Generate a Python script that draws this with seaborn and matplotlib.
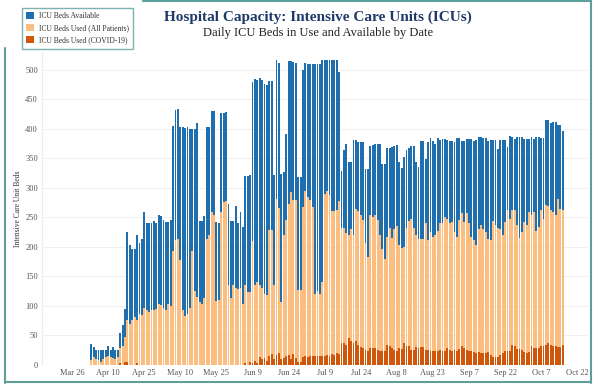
import numpy as np
import pandas as pd
import matplotlib.pyplot as plt
from matplotlib.patches import Patch
from matplotlib.lines import Line2D
import seaborn as sns

# Daily values, Apr 3 .. Oct 16
icu_capacity = [
    35, 31, 25, 25, 25, 25, 25, 32, 25, 31, 25, 25, 55, 67, 95,
    226, 203, 197, 197, 220, 206, 214, 259, 240, 241, 241, 244, 240, 254, 253, 245, 243, 243, 245,
    404, 431, 434, 403, 403, 401, 403, 400, 399, 399, 410, 244, 244, 252, 403, 403, 430, 430, 243, 240, 427, 427, 428,
    272, 244, 244, 270, 240, 259, 234, 320, 320, 321, 479, 485, 482, 486, 482, 475, 474, 481, 481, 321, 516, 512, 323, 327, 392,
    514, 514, 513, 512, 319, 319, 499, 512, 510, 509, 509, 509, 509, 510, 516, 516, 516, 516, 516, 516, 516, 496, 328, 364, 375, 344, 344, 381,
    381, 377, 377, 377, 332, 332, 371, 372, 374, 374, 374, 341, 341, 368, 368, 370, 371, 373, 343, 333, 352, 364, 368, 371, 371, 344, 336, 379,
    379, 349, 377, 384, 379, 375, 385, 381, 383, 383, 381, 379, 379, 377, 384, 384, 379, 379, 383, 383, 383, 379, 381, 386, 386, 385, 385, 379, 381,
    381, 381, 365, 381, 381, 381, 369, 388, 386, 383, 386, 386, 386, 383, 383, 383, 386, 383, 386, 386, 385, 385, 415, 415, 409, 412, 411, 406, 406, 396,
]
used_all = [
    8, 14, 10, 8, 5, 10, 14, 15, 14, 12, 10, 14, 28, 32, 48,
    77, 69, 76, 82, 76, 87, 85, 96, 93, 90, 93, 93, 95, 103, 102, 96, 93, 103, 100,
    193, 211, 213, 178, 93, 83, 87, 96, 193, 125, 115, 107, 104, 113, 214, 220, 259, 254, 108, 110, 259, 276, 278,
    135, 114, 135, 130, 129, 130, 104, 135, 124, 123, 210, 136, 141, 135, 130, 121, 118, 228, 228, 135, 281, 266, 107, 220, 245,
    272, 293, 279, 279, 127, 127, 268, 295, 284, 279, 268, 121, 125, 121, 141, 289, 294, 288, 261, 261, 262, 278, 232, 232, 223, 220, 231, 220,
    264, 261, 254, 245, 206, 183, 254, 251, 254, 245, 220, 197, 180, 217, 232, 215, 231, 236, 203, 198, 200, 232, 244, 248, 232, 220, 213, 214,
    214, 240, 211, 226, 217, 220, 227, 240, 241, 251, 247, 240, 243, 226, 217, 245, 257, 243, 257, 240, 217, 211, 204, 231, 237, 231, 226, 214, 211,
    244, 237, 232, 231, 220, 243, 262, 248, 262, 262, 237, 215, 226, 243, 237, 259, 254, 259, 227, 234, 262, 248, 271, 270, 262, 259, 254, 281, 265, 262,
]
used_covid = [
    0, 0, 0, 0, 0, 0, 0, 0, 0, 0, 0, 0, 3, 0, 5,
    5, 0, 0, 0, 3, 0, 0, 0, 0, 0, 0, 0, 0, 0, 0, 0, 0, 0, 0,
    0, 0, 0, 0, 0, 0, 0, 0, 0, 0, 0, 0, 0, 0, 0, 0, 0, 0, 0, 0, 0, 0, 0,
    0, 0, 0, 0, 0, 0, 0, 4, 0, 5, 3, 6, 3, 14, 10, 12, 6, 15, 18, 10, 17, 20, 10, 12, 15,
    17, 11, 18, 12, 5, 5, 14, 15, 14, 16, 15, 15, 16, 15, 15, 16, 17, 16, 18, 17, 20, 18, 38, 38, 34, 45, 40, 38,
    41, 34, 31, 28, 25, 23, 28, 29, 29, 25, 23, 24, 24, 34, 33, 28, 25, 24, 29, 27, 38, 33, 33, 25, 25, 31, 28, 30,
    31, 25, 25, 24, 24, 24, 23, 25, 23, 24, 29, 25, 23, 25, 24, 27, 33, 28, 25, 23, 24, 22, 21, 22, 20, 20, 21, 22, 17,
    14, 13, 13, 17, 20, 23, 24, 24, 34, 33, 27, 27, 25, 22, 21, 22, 33, 29, 28, 29, 33, 33, 34, 37, 34, 33, 33, 31, 30, 34,
]

axis_start = pd.Timestamp('2020-03-26')
dates = pd.date_range('2020-04-03', periods=len(icu_capacity), freq='D')
tick_dates = pd.date_range('2020-03-26', '2020-10-22', freq='15D')
tick_labels = [f'{d:%b} {d.day}' for d in tick_dates]
y_ticks = list(range(0, 501, 50))

labels = ['ICU Beds Available', 'ICU Beds Used (All Patients)', 'ICU Beds Used (COVID-19)']
colors = ['#1f6fae', '#fbbd80', '#cf560a']

df = pd.DataFrame({
    'day': (dates - axis_start).days,
    'capacity': icu_capacity,
    'used': used_all,
    'covid': used_covid,
})

sns.set_style('white')
plt.rcParams['font.family'] = ['Liberation Serif', 'DejaVu Serif']

fig = plt.figure(figsize=(5.97, 3.87), dpi=100)
ax = fig.add_axes([0.0704, 0.0568, 0.9146, 0.8088])

# available is stacked on used, so draw the full height first and overlay
for col, c in zip(['capacity', 'used', 'covid'], colors):
    sns.barplot(data=df, x='day', y=col, color=c, native_scale=True, errorbar=None,
                width=0.78, saturation=1, linewidth=0, ax=ax)

ax.set_xlim(-12.5, 214.5)
ax.set_ylim(0, 530)
ax.set_xticks((tick_dates - axis_start).days)
ax.set_xticklabels(tick_labels)
ax.set_yticks(y_ticks)
ax.tick_params(axis='both', labelsize=6, colors='#555555', length=0, pad=3)
ax.set_xlabel('')
ax.set_ylabel('Intensive Care Unit Beds', fontsize=5.5, color='#333333', labelpad=2)
ax.yaxis.grid(True, color='#f0f0f0', linewidth=0.8)
ax.set_axisbelow(True)
for s in ['top', 'right', 'bottom']:
    ax.spines[s].set_visible(False)
ax.spines['left'].set_color('#ececec')
ax.spines['left'].set_linewidth(0.8)

fig.text(0.533, 0.955, 'Hospital Capacity: Intensive Care Units (ICUs)', ha='center', va='center',
         fontsize=11, fontweight='bold', color='#1f3a68')
fig.text(0.533, 0.915, 'Daily ICU Beds in Use and Available by Date', ha='center', va='center',
         fontsize=9, color='#222222')

handles = [Patch(facecolor=c, edgecolor='none') for c in colors]
leg = fig.legend(handles, labels, loc='upper left', bbox_to_anchor=(0.03, 0.99),
                 fontsize=5.5, frameon=True, fancybox=False, handlelength=1.0, handleheight=1.0,
                 handletextpad=0.6, borderpad=0.6, labelspacing=0.5)
leg.get_frame().set_edgecolor('#5e9f9b')
leg.get_frame().set_linewidth(1.0)
for t in leg.get_texts():
    t.set_color('#333333')

# teal frame around the chart
frame_c = '#5e9f9b'
fig.add_artist(Line2D([0.009, 0.009], [0.01, 0.875], color=frame_c, lw=1.5, transform=fig.transFigure))
fig.add_artist(Line2D([0.99, 0.99], [0.01, 0.998], color=frame_c, lw=1.5, transform=fig.transFigure))
fig.add_artist(Line2D([0.009, 0.99], [0.012, 0.012], color=frame_c, lw=1.5, transform=fig.transFigure))
fig.add_artist(Line2D([0.24, 0.99], [0.997, 0.997], color=frame_c, lw=1.5, transform=fig.transFigure))

fig.savefig('out.png', dpi=100)
